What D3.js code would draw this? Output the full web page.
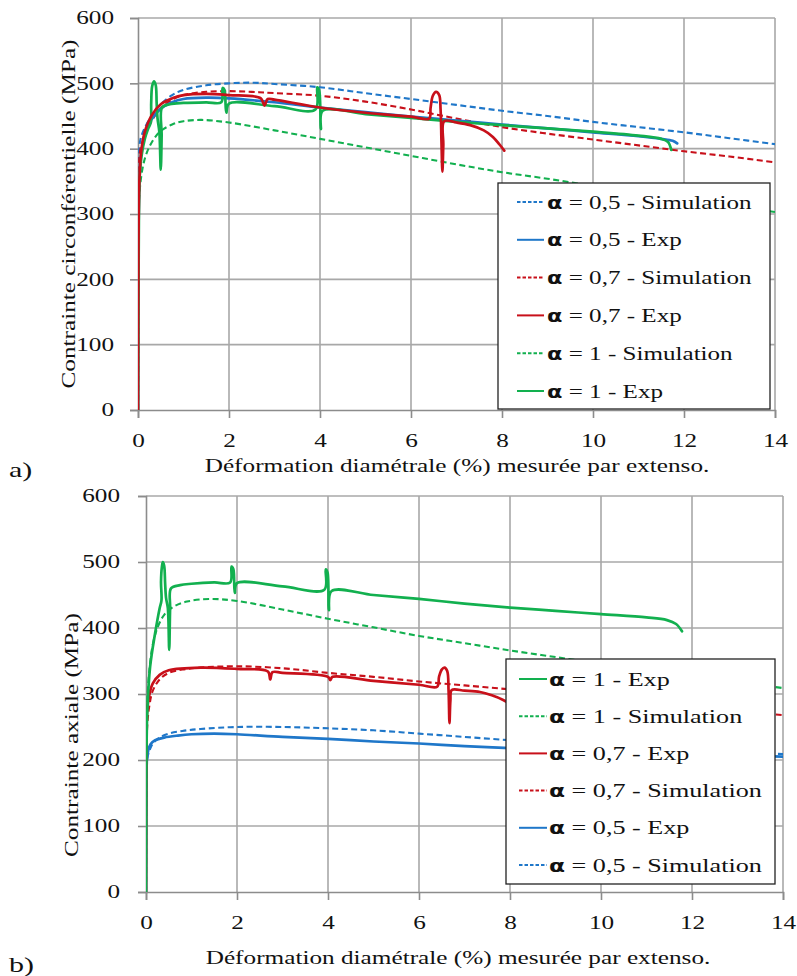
<!DOCTYPE html>
<html><head><meta charset="utf-8">
<script src="https://cdn.jsdelivr.net/npm/d3@7"></script>
<style>
body{margin:0;background:#fff}
svg{display:block}
svg text{font-family:"Liberation Serif","DejaVu Serif","Times New Roman",serif;fill:#111}
svg text tspan.al{font-family:"DejaVu Sans",sans-serif;font-weight:bold}
</style>
</head><body>
<svg id="c" width="797" height="976"></svg>
<script>
// ---------- data ----------
const xTicks = [0, 2, 4, 6, 8, 10, 12, 14];
const yTicks = [0, 100, 200, 300, 400, 500, 600];
const xTitle = "Déformation diamétrale (%) mesurée par extenso.";
const yTitleA = "Contrainte circonférentielle (MPa)";
const yTitleB = "Contrainte axiale (MPa)";
const panelLetters = ["a)", "b)"];

// Panel a : circumferential stress
const aSim05 = [[0,0],[0.01,330],[0.02,385],[0.05,413],[0.15,432],[0.3,450],[0.5,468],[0.75,482],[1,490],[1.5,497],[2,500],[2.5,501],[3,499],[4,494],[5,485],[6,476],[7,467],[8,458],[9,450],[10,441],[11,433],[12,425],[13,416],[14,407]];
const aExp05 = [[0,0],[0.01,250],[0.03,350],[0.07,392],[0.15,420],[0.3,445],[0.5,461],[0.75,471],[1,476],[1.5,478],[2,477],[3,471],[4,463],[5,456],[6,449],[7,443],[8,437],[9,431],[10,425],[11,419],[11.5,415],[11.75,412],[11.85,408]];
const aSim07 = [[0,0],[0.01,320],[0.02,372],[0.05,398],[0.15,420],[0.3,442],[0.5,462],[0.75,475],[1,482],[1.5,487],[2,488],[2.5,487],[3,485],[4,481],[5,472],[6,460],[7,446],[8,433],[9,423],[10,414],[11,405],[12,396],[13,388],[14,379]];
const aExp07 = [[0,0],[0.01,250],[0.03,350],[0.07,396],[0.15,426],[0.3,451],[0.5,468],[0.75,477],[1,482],[1.5,484],[2,482],[2.7,477],[2.78,466],[2.85,476],[3,475],[4,463],[5,455],[6,449],[6.4,446],[6.43,462],[6.48,481],[6.55,487],[6.62,482],[6.65,460],[6.67,410],[6.69,365],[6.71,405],[6.73,442],[7,440],[7.3,436],[7.6,428],[7.8,418],[7.95,406],[8.05,397]];
const aSim1 = [[0,0],[0.01,250],[0.02,320],[0.1,370],[0.2,395],[0.35,415],[0.5,427],[0.75,437],[1,442],[1.4,444],[2,440],[3,428],[4,415],[5,402],[6,389],[7,376],[8,364],[9,354],[10,343],[11,333],[12,323],[13,313],[14,303]];
const aExp1 = [[0,0],[0.01,150],[0.02,300],[0.04,360],[0.08,390],[0.15,415],[0.22,430],[0.28,440],[0.29,470],[0.31,495],[0.35,503],[0.39,497],[0.41,470],[0.43,446],[0.47,425],[0.5,368],[0.52,420],[0.53,463],[0.7,468],[1,470],[1.5,471],[1.83,471],[1.86,493],[1.9,490],[1.94,455],[2,469],[3,465],[3.9,460],[3.94,494],[3.98,490],[4.02,430],[4.06,458],[5,453],[6,447],[7,441],[8,436],[9,431],[10,426],[11,420],[11.5,415],[11.65,410],[11.72,398]];

// Panel b : axial stress
const bExp1 = [[0,0],[0.005,150],[0.01,210],[0.03,276],[0.09,341],[0.2,392],[0.3,430],[0.34,442],[0.33,470],[0.35,493],[0.37,500],[0.4,494],[0.42,468],[0.44,446],[0.48,430],[0.51,367],[0.53,430],[0.55,460],[0.75,465],[1,467],[1.5,469],[1.85,469],[1.88,493],[1.92,489],[1.95,453],[2,468],[3,463],[3.92,458],[3.95,489],[3.99,484],[4.02,427],[4.08,456],[5,450],[6,444],[7,437],[8,431],[9,426],[10,421],[11,416],[11.45,412],[11.65,406],[11.78,395]];
const bSim1 = [[0,0],[0.01,200],[0.03,290],[0.08,340],[0.15,375],[0.25,400],[0.4,420],[0.6,432],[0.9,440],[1.4,444],[2,441],[3,428],[4,414],[5,401],[6,388],[7,377],[8,366],[9,356],[10,346],[11,337],[12,327],[13,318],[14,309]];
const bExp07 = [[0,0],[0.005,150],[0.01,230],[0.02,270],[0.08,301],[0.15,316],[0.3,329],[0.5,336],[1.2,340],[2,338],[2.68,334],[2.73,322],[2.78,333],[3,332],[4,326],[4.05,321],[4.1,326],[5,320],[6,314],[6.4,311],[6.44,326],[6.5,337],[6.56,340],[6.62,335],[6.65,305],[6.67,256],[6.69,290],[6.72,306],[7,305],[7.34,303],[7.6,298],[7.85,291],[8.1,281]];
const bSim07 = [[0,0],[0.01,200],[0.03,255],[0.08,285],[0.15,305],[0.3,322],[0.5,332],[0.8,337],[1.2,340],[2,342],[3,339],[4,332],[5,326],[6,319],[7,313],[8,307],[9,300],[10,294],[11,287],[12,281],[13,274],[14,268]];
const bExp05 = [[0,0],[0.005,100],[0.01,170],[0.02,200],[0.05,215],[0.1,224],[0.2,230],[0.4,234],[0.7,237],[1,239],[1.5,240],[2,239],[3,235],[4,232],[5,228],[6,225],[7,221],[8,218],[9,215],[10,213],[11,211],[12,209],[13,207],[14,205]];
const bSim05 = [[0,0],[0.01,180],[0.03,203],[0.08,215],[0.15,225],[0.3,234],[0.5,240],[0.8,244],[1.2,247],[2,250],[3,250],[4,248],[5,245],[6,240],[7,235],[8,230],[9,226],[10,222],[11,219],[12,215],[13,212],[14,209]];

const legendLabelsA = ["α = 0,5 - Simulation","α = 0,5 - Exp","α = 0,7 - Simulation","α = 0,7 - Exp","α = 1 - Simulation","α = 1 - Exp"];
const legendLabelsB = ["α = 1 - Exp","α = 1 - Simulation","α = 0,7 - Exp","α = 0,7 - Simulation","α = 0,5 - Exp","α = 0,5 - Simulation"];

// ---------- styles ----------
const COL = {b:"#1f77c9", r:"#c8101a", g:"#12b04f"};
const FS = 18.5;
const svg = d3.select("#c");

// global horizontal stretch: the reference font (Computer Modern) is wider
const probe = svg.append("text").attr("font-size",FS).text(xTitle);
const K = 505 / probe.node().getComputedTextLength();
probe.remove();

function sText(parent, x, y, str, size, anchor, rot, k){
  const g = parent.append("g").attr("transform",`translate(${x},${y})${rot?` rotate(${rot})`:""} scale(${k||K},1)`);
  return g.append("text").attr("font-size",size).attr("text-anchor",anchor).text(str);
}

function panel(cfg){
  const g = svg.append("g");
  const x = d3.scaleLinear().domain([0,14]).range([cfg.l, cfg.r]);
  const y = d3.scaleLinear().domain([0,600]).range([cfg.b, cfg.t]);

  // gridlines
  g.append("g").selectAll("line").data(yTicks.slice(1)).join("line")
    .attr("x1", cfg.l).attr("x2", cfg.r).attr("y1", d=>y(d)).attr("y2", d=>y(d))
    .attr("stroke","#a8a8a8").attr("stroke-width",1.6);
  g.append("g").selectAll("line").data(xTicks.slice(1)).join("line")
    .attr("y1", cfg.t).attr("y2", cfg.b).attr("x1", d=>x(d)).attr("x2", d=>x(d))
    .attr("stroke","#a8a8a8").attr("stroke-width",1.6);

  // axes
  const ax = g.append("g").attr("transform",`translate(0,${cfg.b})`)
    .call(d3.axisBottom(x).tickValues(xTicks).tickSize(8).tickPadding(16).tickFormat(d3.format("d")));
  const ay = g.append("g").attr("transform",`translate(${cfg.l},0)`)
    .call(d3.axisLeft(y).tickValues(yTicks).tickSize(8).tickPadding(cfg.ypad).tickFormat(d3.format("d")));
  [ax, ay].forEach(a=>{
    a.attr("font-family",null).attr("font-size",null);
    a.select(".domain").attr("stroke","#8c8c8c").attr("stroke-width",1.6);
    a.selectAll(".tick line").attr("stroke","#8c8c8c").attr("stroke-width",1.6);
    a.selectAll("text").attr("font-size",FS).attr("fill","#111");
  });
  ax.selectAll("text").attr("dy","0.71em").attr("transform",`scale(${K},1)`);
  ay.selectAll("text").attr("x",function(){return +d3.select(this).attr("x")/K;}).attr("transform",`scale(${K},1)`);

  // clip
  const cid = "clip"+cfg.id;
  svg.append("clipPath").attr("id",cid).append("rect")
    .attr("x",cfg.l).attr("y",cfg.t-8).attr("width",cfg.r-cfg.l).attr("height",cfg.b-cfg.t+8);

  const line = d3.line().x(d=>x(d[0])).y(d=>y(d[1])).curve(d3.curveCatmullRom.alpha(0.5));
  const lg = g.append("g").attr("clip-path",`url(#${cid})`);
  cfg.series.forEach(s=>{
    lg.append("path").datum(s.data).attr("d",line).attr("fill","none")
      .attr("stroke",COL[s.c]).attr("stroke-width", s.dash?2.1:2.7)
      .attr("stroke-dasharray", s.dash?"6,3.5":null)
      .attr("stroke-linejoin","round").attr("stroke-linecap", s.dash?"butt":"round");
  });

  // titles
  sText(g, cfg.xtX, cfg.xtY, xTitle, FS, "middle");
  sText(g, cfg.ytX, cfg.ytY, cfg.ytitle, FS, "middle", -90);
  sText(g, 9, cfg.letterY, cfg.letter, 22, "start");

  // legend
  const L = cfg.leg;
  g.append("rect").attr("x",L.x0).attr("y",L.y0).attr("width",L.x1-L.x0).attr("height",L.y1-L.y0)
    .attr("fill","#fff").attr("stroke","#222").attr("stroke-width",1.3);
  const rows = g.append("g").selectAll("g").data(cfg.legItems).join("g")
    .attr("transform",(d,i)=>`translate(0,${L.first + i*L.step})`);
  rows.append("line").attr("x1",L.lx0).attr("x2",L.lx1).attr("y1",0).attr("y2",0)
    .attr("stroke",d=>COL[d.c]).attr("stroke-width",2).attr("stroke-dasharray",d=>d.dash?"3.5,2":null);
  const tg = rows.append("g").attr("transform",`translate(${L.tx},0) scale(${K*L.k},1)`);
  const tx = tg.append("text").attr("x",0).attr("y",0).attr("dy","0.35em").attr("font-size",L.fs);
  tx.append("tspan").attr("class","al").attr("font-size",L.fs-2).text(d=>d.label.slice(0,1));
  tx.append("tspan").text(d=>d.label.slice(1));
}

const S = (data,c,dash)=>({data,c,dash});

panel({
  id:"a", l:138, r:775, t:18, b:410, ypad:16,
  xtX:457, xtY:472, ytX:75, ytY:214, ytitle:yTitleA, letter:panelLetters[0], letterY:477,
  series:[S(aSim05,"b",true),S(aSim07,"r",true),S(aSim1,"g",true),S(aExp05,"b",false),S(aExp1,"g",false),S(aExp07,"r",false)],
  leg:{x0:498,x1:770,y0:183,y1:409,first:202,step:37.8,lx0:517,lx1:544,tx:547,fs:19,k:0.967},
  legItems: legendLabelsA.map((label,i)=>({label, c:["b","b","r","r","g","g"][i], dash:i%2===0}))
});
panel({
  id:"b", l:146, r:783, t:496, b:892, ypad:18,
  xtX:458, xtY:964, ytX:78, ytY:735, ytitle:yTitleB, letter:panelLetters[1], letterY:972,
  series:[S(bSim05,"b",true),S(bSim07,"r",true),S(bSim1,"g",true),S(bExp05,"b",false),S(bExp07,"r",false),S(bExp1,"g",false)],
  leg:{x0:506,x1:775,y0:659,y1:884,first:679,step:37.2,lx0:519,lx1:547,tx:549,fs:19,k:1.007},
  legItems: legendLabelsB.map((label,i)=>({label, c:["g","g","r","r","b","b"][i], dash:i%2===1}))
});
</script>
</body></html>
